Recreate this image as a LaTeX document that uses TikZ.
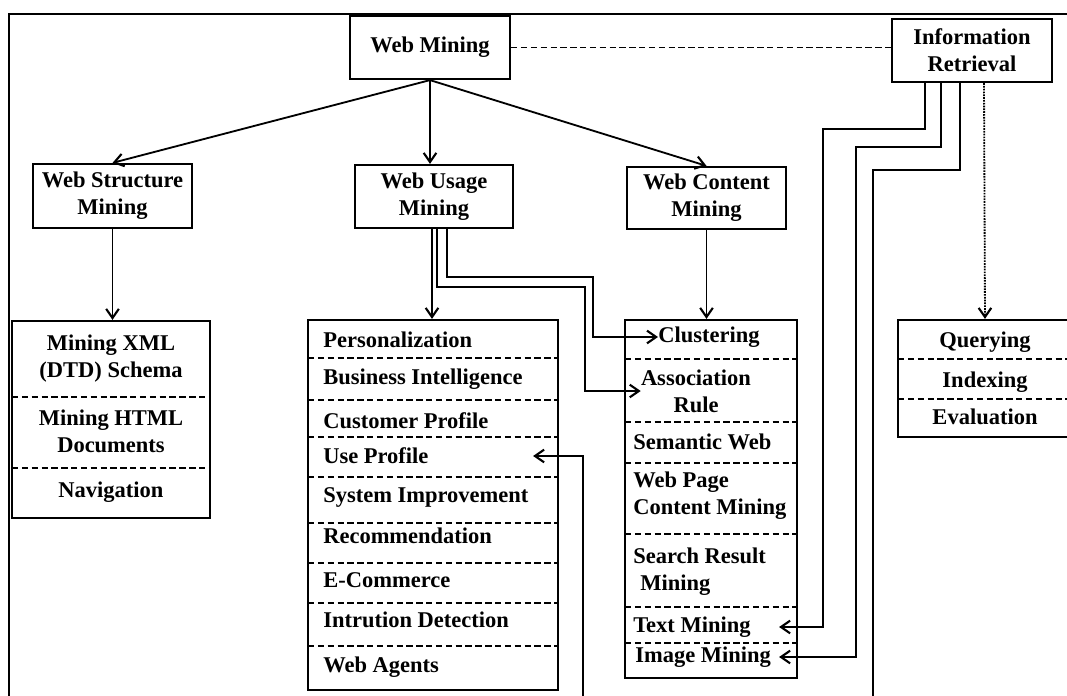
\documentclass[tikz,border=0pt]{standalone}
\usepackage{fontspec}
\setmainfont{Liberation Serif}
\usetikzlibrary{arrows.meta,calc}

\tikzset{
    txt/.style={font=\bfseries\fontsize{16}{19.2}\selectfont, inner sep=0pt},
    mbox/.style 2 args={draw, line width=1.6pt, txt, align=center, minimum width=#1*0.025cm, minimum height=#2*0.025cm},
    sep/.style={line width=1.3pt, dash pattern=on 4.5pt off 2.5pt},
    link/.style={line width=1.3pt, -{Straight Barb[length=6.5pt,width=9pt,line width=1.5pt]}}
}

\begin{document}
\begin{tikzpicture}[x=0.025cm, y=-0.025cm]
                    \path[use as bounding box] (0,0) rectangle (1067,696);
                    \clip (0,0) rectangle (1067,696);
                    \draw[line width=1.6pt] (9,696) -- (9,14) -- (1067,14);
                    % top level boxes
                    \node[mbox={160}{63}] (wm) at (430,47.5) {Web Mining};
                    \node[mbox={160}{63}] (ir) at (972,50.5) {Information\\Retrieval};
                    \node[mbox={159}{64}] (wsm) at (112.5,196) {Web Structure\\Mining};
                    \node[mbox={158}{63}] (wum) at (434,196.5) {Web Usage\\Mining};
                    \node[mbox={159}{62}] (wcm) at (706.5,198) {Web Content\\Mining};
                    % list boxes
                    \node[mbox={198}{197}] (xbox) at (111,419.5) {};
                    \node[mbox={250}{370}] (ubox) at (433,505) {};
                    \node[mbox={172}{358}] (cbox) at (711,499) {};
                    \node[mbox={174}{117}] (qbox) at (985,378.5) {};
                    % structure list
                    \node[txt, align=center] (xXml) at (111,358.5) {Mining XML\\(DTD) Schema};
                    \node[txt, align=center] (xHtml) at (111,431) {Mining HTML\\Documents};
                    \node[txt] (xNav) at (111,492) {Navigation};
                    \draw[sep] (12,397) -- (210,397);
                    \draw[sep] (12,468) -- (210,468);
                    % usage list
                    \node[txt, anchor=west] (uPers) at (323,340) {Personalization};
                    \node[txt, anchor=west] (uBus) at (323,379) {Business Intelligence};
                    \node[txt, anchor=west] (uCust) at (323,421) {Customer Profile};
                    \node[txt, anchor=west] (uUse) at (323,456) {Use Profile};
                    \node[txt, anchor=west] (uSys) at (323,497) {System Improvement};
                    \node[txt, anchor=west] (uRec) at (323,536) {Recommendation};
                    \node[txt, anchor=west] (uEcom) at (323,580) {E-Commerce};
                    \node[txt, anchor=west] (uIntr) at (323,620) {Intrution Detection};
                    \node[txt, anchor=west] (uAgent) at (323,667) {Web Agents};
                    \draw[sep] (308,358) -- (558,358);
                    \draw[sep] (308,400) -- (558,400);
                    \draw[sep] (308,437) -- (558,437);
                    \draw[sep] (308,477) -- (558,477);
                    \draw[sep] (308,523) -- (558,523);
                    \draw[sep] (308,563) -- (558,563);
                    \draw[sep] (308,603) -- (558,603);
                    \draw[sep] (308,646) -- (558,646);
                    % content list
                    \node[txt, anchor=west] (cClus) at (658,337) {Clustering};
                    \node[txt, align=center] (cAssoc) at (696,391) {Association\\Rule};
                    \node[txt, anchor=west] (cSem) at (633,442) {Semantic Web};
                    \node[txt, anchor=west, align=left] (cPage) at (633,495.5) {Web Page\\Content Mining};
                    \node[txt, anchor=west, align=left] (cSearch) at (633,571.5) {Search Result\\\hspace*{5pt}Mining};
                    \node[txt, anchor=west] (cText) at (633,627) {Text Mining};
                    \node[txt, anchor=west] (cImage) at (635,657) {Image Mining};
                    \draw[sep] (625,359) -- (797,359);
                    \draw[sep] (625,422) -- (797,422);
                    \draw[sep] (625,463) -- (797,463);
                    \draw[sep] (625,534) -- (797,534);
                    \draw[sep] (625,607) -- (797,607);
                    \draw[sep] (625,643) -- (797,643);
                    % retrieval list
                    \node[txt] (qQuery) at (985,342) {Querying};
                    \node[txt] (qIndex) at (985,382) {Indexing};
                    \node[txt] (qEval) at (985,417) {Evaluation};
                    \draw[sep] (898,359) -- (1072,359);
                    \draw[sep] (898,399) -- (1072,399);
                    % connectors
                    \draw[link] (wm.south) -- (wsm.north);
                    \draw[link] (wm.south) -- (wm.south |- wum.north);
                    \draw[link] (wm.south) -- (wcm.north);
                    \draw[sep] (wm.east) -- (wm.east -| ir.west);
                    \draw[link] (wsm.south) -- (wsm.south |- xbox.north);
                    \draw[link] ($(wum.south)+(-2,0)$) -- ($(wum.south |- ubox.north)+(-2,0)$);
                    \draw[link] ($(wum.south)+(3,0)$) |- (585,287) |- (cAssoc.west);
                    \draw[link] ($(wum.south)+(13,0)$) |- (593,277) |- (cClus.west);
                    \draw[link] (wcm.south) -- (wcm.south |- cbox.north);
                    \draw[link] ($(ir.south)+(-47,0)$) |- (823,129) |- ($(cText -| cbox.east)+(-19,0)$);
                    \draw[link] ($(ir.south)+(-31,0)$) |- (856,147) |- ($(cImage -| cbox.east)+(-19,0)$);
                    \draw[link] ($(ir.south)+(-12,0)$) |- (873,170) |- (583,720) |- ($(uUse -| ubox.east)+(-26,0)$);
                    \draw[link, dash pattern=on 1.2pt off 0.8pt] ($(ir.south)+(12,0)$) -- (qbox.north);
                \end{tikzpicture}
\end{document}
